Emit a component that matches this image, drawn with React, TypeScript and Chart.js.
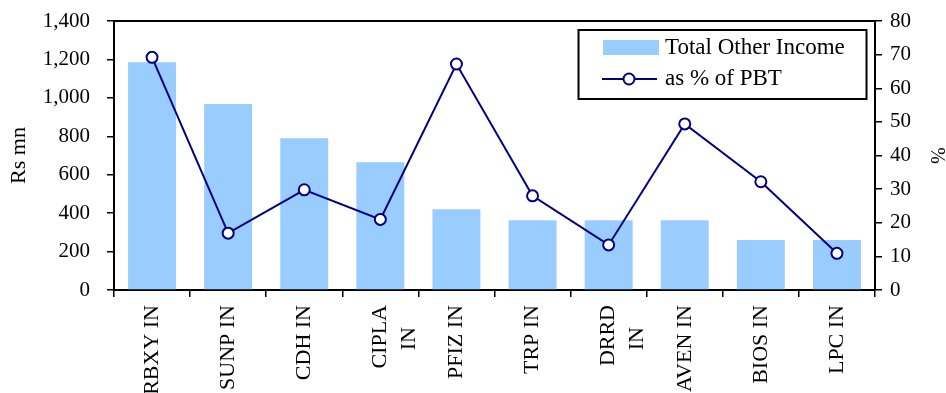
import React, { useEffect, useRef } from "react";
import { Chart, registerables } from "chart.js";

Chart.register(...registerables);

const categories: string[][] = [
  ["RBXY IN"],
  ["SUNP IN"],
  ["CDH IN"],
  ["CIPLA", "IN"],
  ["PFIZ IN"],
  ["TRP IN"],
  ["DRRD", "IN"],
  ["AVEN IN"],
  ["BIOS IN"],
  ["LPC IN"],
];
const incomeValues = [1185, 968, 790, 665, 420, 363, 363, 363, 260, 260];
const pctValues = [69.2, 16.9, 29.8, 21.0, 67.2, 28.0, 13.4, 49.4, 32.2, 10.9];
const leftTicks = { min: 0, max: 1400, step: 200 };
const rightTicks = { min: 0, max: 80, step: 10 };
const seriesNames = ["Total Other Income", "as % of PBT"];
const axisTitles = { left: "Rs mn", right: "%" };

const FONT = "'Liberation Serif', 'Times New Roman', serif";
const BAR = "#99CCFF";
const NAVY = "#000080";

const framePlugin = {
  id: "frameAndLegend",
  afterDraw(chart: any) {
    const { ctx, chartArea } = chart;
    ctx.save();
    ctx.strokeStyle = "#000";
    ctx.lineWidth = 2;
    ctx.beginPath();
    ctx.moveTo(chartArea.left, chartArea.top);
    ctx.lineTo(chartArea.right, chartArea.top);
    ctx.stroke();

    const bx = 578.5, by = 30, bw = 288, bh = 69;
    ctx.fillStyle = "#fff";
    ctx.fillRect(bx, by, bw, bh);
    ctx.strokeStyle = "#000";
    ctx.lineWidth = 2;
    ctx.strokeRect(bx, by, bw, bh);

    ctx.fillStyle = BAR;
    ctx.fillRect(603, 40, 56, 15);

    ctx.strokeStyle = NAVY;
    ctx.lineWidth = 2;
    ctx.beginPath();
    ctx.moveTo(602, 79);
    ctx.lineTo(657, 79);
    ctx.stroke();
    ctx.beginPath();
    ctx.arc(629, 79, 5.5, 0, Math.PI * 2);
    ctx.fillStyle = "#fff";
    ctx.fill();
    ctx.stroke();

    ctx.fillStyle = "#000";
    ctx.font = `23px ${FONT}`;
    ctx.textAlign = "left";
    ctx.textBaseline = "middle";
    ctx.fillText(seriesNames[0], 665, 48);
    ctx.fillText(seriesNames[1], 665, 79);
    ctx.restore();
  },
};

const zeroPad = (s: any) => {
  s.paddingTop = 0;
  s.paddingBottom = 0;
  s.paddingLeft = 0;
  s.paddingRight = 0;
};

export default function App() {
  const ref = useRef<HTMLCanvasElement | null>(null);

  useEffect(() => {
    if (!ref.current) return;
    const labels = categories.map((lines) =>
      lines.length > 1
        ? lines.map((l, i) => (i > 0 ? l + "    " : l))
        : lines[0]
    );
    const chart = new Chart(ref.current, {
      type: "bar",
      data: {
        labels,
        datasets: [
          {
            type: "line",
            label: seriesNames[1],
            data: pctValues,
            yAxisID: "y1",
            borderColor: NAVY,
            borderWidth: 2,
            pointRadius: 5.5,
            pointBorderWidth: 2,
            pointBackgroundColor: "#fff",
            pointBorderColor: NAVY,
            tension: 0,
            order: 0,
          } as any,
          {
            type: "bar",
            label: seriesNames[0],
            data: incomeValues,
            yAxisID: "y",
            backgroundColor: BAR,
            borderWidth: 0,
            barPercentage: 0.63,
            categoryPercentage: 1,
            order: 1,
          } as any,
        ],
      },
      options: {
        responsive: false,
        animation: false,
        layout: { padding: { top: 21, left: 0, right: 0, bottom: 0 } },
        plugins: {
          legend: { display: false },
          tooltip: { enabled: false },
        },
        scales: {
          x: {
            offset: true,
            afterFit: (s: any) => {
              s.height = 130;
              zeroPad(s);
            },
            grid: {
              offset: true,
              drawOnChartArea: false,
              drawTicks: true,
              tickLength: 7,
              color: "#000",
              lineWidth: 1.5,
            },
            border: { display: true, color: "#000", width: 2 },
            ticks: {
              minRotation: 90,
              maxRotation: 90,
              autoSkip: false,
              padding: 8,
              color: "#000",
              font: { family: FONT, size: 22, lineHeight: 1.3 },
            },
          },
          y: {
            position: "left",
            min: leftTicks.min,
            max: leftTicks.max,
            afterFit: (s: any) => {
              s.width = 114;
              zeroPad(s);
            },
            grid: {
              drawOnChartArea: false,
              drawTicks: true,
              tickLength: 7,
              color: "#000",
              lineWidth: 1.5,
            },
            border: { display: true, color: "#000", width: 2 },
            ticks: {
              stepSize: leftTicks.step,
              padding: 17,
              color: "#000",
              font: { family: FONT, size: 21 },
            },
            title: {
              display: true,
              text: axisTitles.left,
              color: "#000",
              padding: { top: 6, bottom: 0 },
              font: { family: FONT, size: 22, lineHeight: 1.2 },
            },
          },
          y1: {
            position: "right",
            min: rightTicks.min,
            max: rightTicks.max,
            afterFit: (s: any) => {
              s.width = 71;
              zeroPad(s);
            },
            grid: {
              drawOnChartArea: false,
              drawTicks: true,
              tickLength: 7,
              color: "#000",
              lineWidth: 1.5,
            },
            border: { display: true, color: "#000", width: 2 },
            ticks: {
              stepSize: rightTicks.step,
              padding: 8,
              color: "#000",
              font: { family: FONT, size: 21 },
            },
            title: {
              display: true,
              text: axisTitles.right,
              color: "#000",
              padding: { top: 0, bottom: 0 },
              font: { family: FONT, size: 20, lineHeight: 1.0 },
            },
          },
        },
      },
      plugins: [framePlugin],
    });
    return () => chart.destroy();
  }, []);

  return (
    <div style={{ position: "absolute", left: 0, top: 0, width: 946, height: 420, background: "#fff" }}>
      <canvas ref={ref} width={946} height={420} style={{ display: "block" }} />
    </div>
  );
}
